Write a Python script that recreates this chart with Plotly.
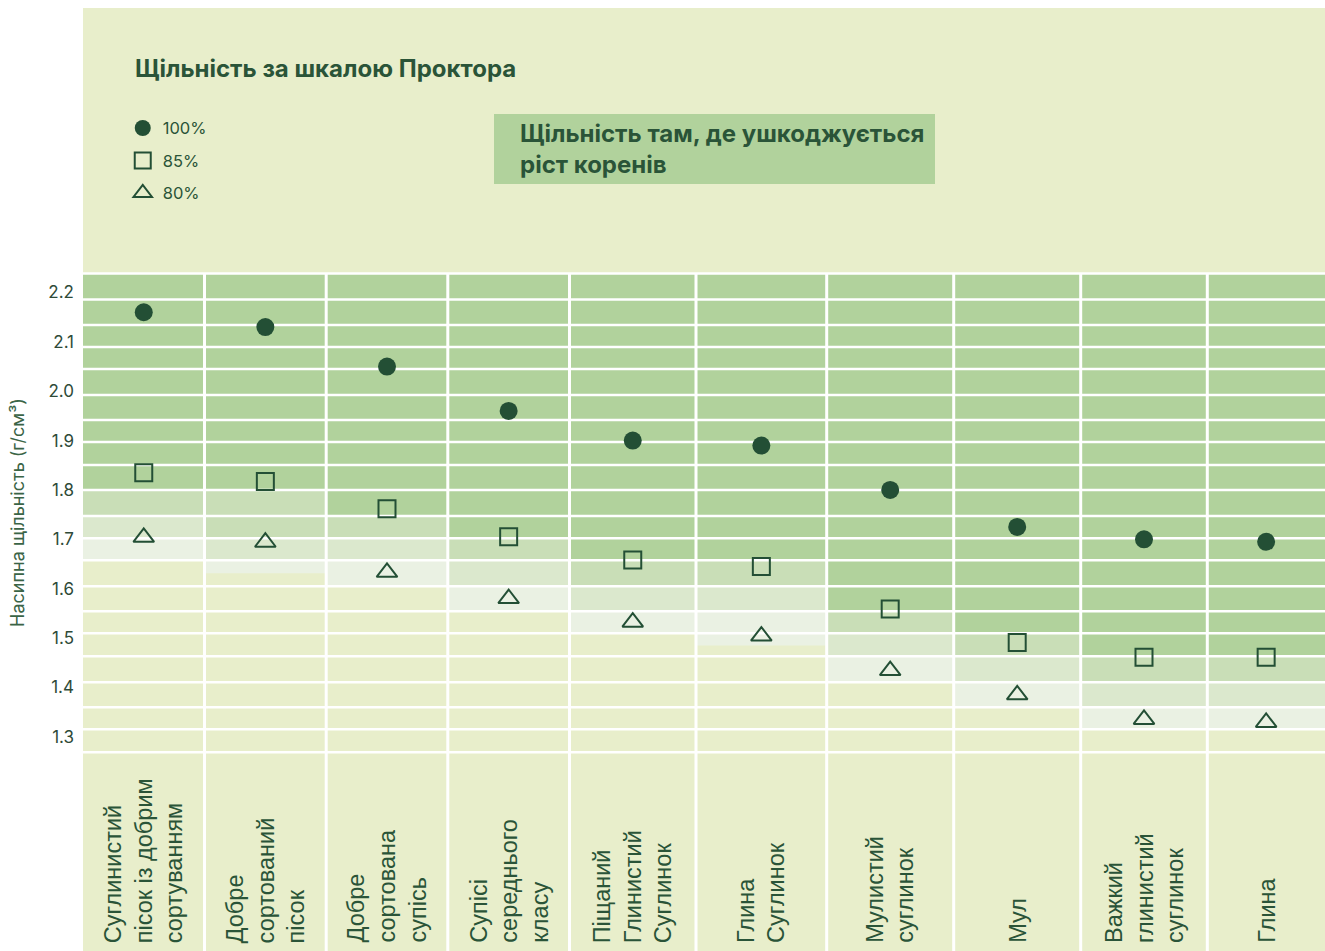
import numpy as np
import plotly.graph_objects as go

# ---- data -------------------------------------------------------------
soil_types = [
    "Суглинистий<br>пісок із добрим<br>сортуванням",
    "Добре<br>сортований<br>пісок",
    "Добре<br>сортована<br>супісь",
    "Супісі<br>середнього<br>класу",
    "Піщаний<br>Глинистий<br>Суглинок",
    "Глина<br>Суглинок",
    "Мулистий<br>суглинок",
    "Мул",
    "Важкий<br>глинистий<br>суглинок",
    "Глина",
]
density_100 = [2.16, 2.13, 2.05, 1.96, 1.90, 1.89, 1.80, 1.725, 1.70, 1.695]
density_85 = [1.835, 1.817, 1.762, 1.705, 1.658, 1.645, 1.559, 1.491, 1.461, 1.461]
density_80 = [1.704, 1.694, 1.633, 1.580, 1.532, 1.504, 1.434, 1.385, 1.335, 1.329]

# densities at which root growth is impaired: fully from root_limit upward,
# then three fading steps down to root_fade_3
root_limit = [1.800, 1.800, 1.747, 1.702, 1.657, 1.657, 1.554, 1.510, 1.463, 1.463]
root_fade_1 = [1.747, 1.702, 1.702, 1.657, 1.605, 1.605, 1.510, 1.463, 1.410, 1.410]
root_fade_2 = [1.702, 1.657, 1.657, 1.605, 1.554, 1.554, 1.463, 1.410, 1.360, 1.360]
root_fade_3 = [1.657, 1.631, 1.605, 1.554, 1.510, 1.485, 1.410, 1.360, 1.315, 1.315]

y_tick_values = [1.3, 1.4, 1.5, 1.6, 1.7, 1.8, 1.9, 2.0, 2.1, 2.2]
y_tick_labels = ["1.3", "1.4", "1.5", "1.6", "1.7", "1.8", "1.9", "2.0", "2.1", "2.2"]

# ---- styling ----------------------------------------------------------
BASE = "#E8EECB"
FULL = "#B1D29C"
FADES = ["#C9DEB7", "#DBE8CD", "#EAF1E3"]
INK = "#234F35"
TEXT = "#2A5438"
FONT = "Inter"

W, H = 1325, 951
M_L, M_T = 83, 8
Y_RANGE = [0.8659, 2.7764]

col_widths = [121.5, 121.7, 121.6, 121.7, 126.5, 130.7, 127.0, 127.0, 126.6, 117.7]
col_edges = np.concatenate([[0.0], np.cumsum(col_widths)])
col_mid = (col_edges[:-1] + col_edges[1:]) / 2
x_total = float(col_edges[-1])

# horizontal stripes of the grid
row_lines = [2.2385, 2.1858, 2.1342, 2.0896, 2.0450, 1.9923, 1.9417, 1.8971,
             1.8505, 1.7999, 1.7472, 1.7022, 1.6575, 1.6049, 1.5543, 1.5097,
             1.4631, 1.4104, 1.3598, 1.3152, 1.2686]
grid_top = row_lines[0]
grid_bottom = row_lines[-1]

shapes = []
for i in range(len(soil_types)):
    x0, x1 = float(col_edges[i]), float(col_edges[i + 1])
    bands = [
        (root_limit[i], grid_top, FULL),
        (root_fade_1[i], root_limit[i], FADES[0]),
        (root_fade_2[i], root_fade_1[i], FADES[1]),
        (root_fade_3[i], root_fade_2[i], FADES[2]),
    ]
    for lo, hi, colour in bands:
        shapes.append(dict(type="rect", xref="x", yref="y", x0=x0, x1=x1,
                           y0=lo, y1=hi, fillcolor=colour, line_width=0,
                           layer="below"))

for yv in row_lines:
    shapes.append(dict(type="line", xref="x", yref="y", x0=0, x1=x_total,
                       y0=yv, y1=yv, line=dict(color="white", width=2.5),
                       layer="below"))
for xv in col_edges[1:-1]:
    shapes.append(dict(type="line", xref="x", yref="y", x0=float(xv), x1=float(xv),
                       y0=grid_top, y1=Y_RANGE[0] - 0.1,
                       line=dict(color="white", width=3), layer="below"))

# callout box in the header
shapes.append(dict(type="rect", xref="x", yref="y", x0=411, x1=852,
                   y0=2.4198, y1=2.5616, fillcolor=FULL, line_width=0,
                   layer="below"))

fig = go.Figure()

fig.add_trace(go.Scatter(
    x=col_mid, y=density_100, mode="markers", name="100%",
    legendgroup="a",
    marker=dict(symbol="circle", size=18, color=INK, line=dict(width=0)),
))
fig.add_trace(go.Scatter(
    x=col_mid, y=density_85, mode="markers", name="85%",
    legendgroup="b",
    marker=dict(symbol="square-open", size=17, color=INK, line=dict(width=2, color=INK)),
))
fig.add_trace(go.Scatter(
    x=col_mid, y=density_80, mode="markers", name="80%",
    legendgroup="c",
    marker=dict(symbol="triangle-up-open", size=18, color=INK, line=dict(width=2, color=INK)),
))

annotations = [
    dict(text="<b>Щільність за шкалою Проктора</b>", xref="x", yref="y",
         x=50, y=2.6548, xanchor="left", yanchor="middle", showarrow=False,
         font=dict(family=FONT, size=24, color=TEXT)),
    dict(text="<b>Щільність там, де ушкоджується<br>ріст коренів</b>", xref="x", yref="y",
         x=435, y=2.4907, xanchor="left", yanchor="middle", align="left",
         showarrow=False, font=dict(family=FONT, size=24, color=TEXT)),
    dict(text="Насипна щільність (г/см³)", xref="paper", yref="y",
         x=-0.0523, y=(grid_top + grid_bottom) / 2, xanchor="center", yanchor="middle",
         textangle=-90, showarrow=False,
         font=dict(family=FONT, size=18, color="#3A6446")),
]
for i, label in enumerate(soil_types):
    annotations.append(dict(
        text=label, xref="x", yref="y", x=float(col_mid[i]), y=0.878,
        xanchor="center", yanchor="bottom", textangle=-90, align="left",
        showarrow=False, font=dict(family="Liberation Sans", size=23.5, color=TEXT),
    ))

fig.update_layout(
    width=W, height=H,
    margin=dict(l=M_L, r=0, t=M_T, b=0, pad=0),
    paper_bgcolor="white",
    plot_bgcolor=BASE,
    shapes=shapes,
    annotations=annotations,
    showlegend=True,
    legend=dict(x=0.032, y=0.891, xanchor="left", yanchor="top",
                bgcolor="rgba(0,0,0,0)", font=dict(family=FONT, size=16.5, color=TEXT),
                tracegroupgap=8, itemsizing="trace"),
    xaxis=dict(range=[0, x_total], visible=False, fixedrange=True),
    yaxis=dict(
        range=Y_RANGE, tickvals=y_tick_values, ticktext=y_tick_labels,
        showgrid=False, zeroline=False, showline=False, ticks="",
        ticklabelstandoff=8,
        tickfont=dict(family=FONT, size=17, color="#2E4A38"),
    ),
)

fig.write_html("out.html")
